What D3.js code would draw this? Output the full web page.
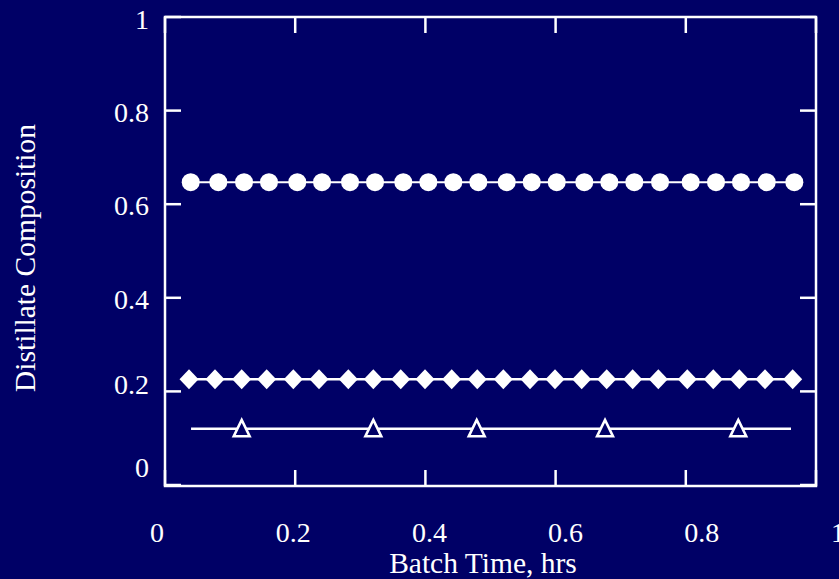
<!DOCTYPE html>
<html>
<head>
<meta charset="utf-8">
<script src="https://cdn.jsdelivr.net/npm/d3@7"></script>
<style>
  html, body { margin: 0; padding: 0; background: #000066; }
  svg { display: block; }
  text { font-family: 'Liberation Serif', 'Times New Roman', serif; fill: #fff; }
</style>
</head>
<body>
<div id="chart"></div>
<script>
// series
let circleX = [0.0395, 0.0819, 0.1214, 0.1597, 0.2032, 0.2412, 0.2842, 0.3226, 0.366, 0.4045, 0.4429, 0.4813,
  0.5249, 0.5633, 0.6017, 0.6441, 0.6825, 0.7209, 0.7604, 0.8075, 0.8464, 0.8848, 0.9243, 0.9667]
let circleY = 0.647

let diamondX = [0.0369, 0.0768, 0.1178, 0.1562, 0.1971, 0.2366, 0.2816, 0.32, 0.3621, 0.3994, 0.4404, 0.4797,
  0.5197, 0.5607, 0.5991, 0.6401, 0.6785, 0.7184, 0.7578, 0.8023, 0.8422, 0.8822, 0.9217, 0.9642]
let diamondY = 0.226

let triLineX = [0.04, 0.0794, 0.1178, 0.1613, 0.1997, 0.2366, 0.28, 0.32, 0.361, 0.4005, 0.4444, 0.4788,
  0.5197, 0.5581, 0.6017, 0.6401, 0.6759, 0.722, 0.7593, 0.8038, 0.8422, 0.8806, 0.9243, 0.9616]
let triMarkX = [0.1178, 0.32, 0.4788, 0.6759, 0.8806]
let triY = 0.12

let xTicks = [0, 0.2, 0.4, 0.6, 0.8, 1]
let yTicks = [0, 0.2, 0.4, 0.6, 0.8, 1]
let xTitle = 'Batch Time, hrs'
let yTitle = 'Distillate Composition'

let width = 839
let height = 579
let plot = { left: 165, right: 816, top: 17, bottom: 486 }
let fontSize = 28
let titleSize = 29.5

let svg = d3
  .select('#chart')
  .append('svg')
  .attr('width', width)
  .attr('height', height)

svg.append('rect').attr('width', width).attr('height', height).attr('fill', '#000066')

let x = d3.scaleLinear().domain([0, 1]).range([plot.left, plot.right])
let y = d3.scaleLinear().domain([0, 1]).range([485, plot.top])

// the tick labels sit a little off the ticks in the original
let xLabel = d3.scaleLinear().domain([0, 1]).range([157, 838])
let yLabel = d3.scaleLinear().domain([0, 0.2, 0.4, 1]).range([467, 384, 299, 19])

// frame
svg
  .append('rect')
  .attr('x', plot.left)
  .attr('y', plot.top)
  .attr('width', plot.right - plot.left)
  .attr('height', plot.bottom - plot.top)
  .attr('fill', 'none')
  .attr('stroke', '#fff')
  .attr('stroke-width', 2.5)

// inward ticks on all four sides
let tickLen = 16
xTicks.forEach(t => {
  svg.append('line')
    .attr('x1', x(t)).attr('x2', x(t))
    .attr('y1', plot.bottom).attr('y2', plot.bottom - tickLen)
    .attr('stroke', '#fff').attr('stroke-width', 2.5)
  svg.append('line')
    .attr('x1', x(t)).attr('x2', x(t))
    .attr('y1', plot.top).attr('y2', plot.top + tickLen)
    .attr('stroke', '#fff').attr('stroke-width', 2.5)
})
yTicks.forEach(t => {
  svg.append('line')
    .attr('x1', plot.left).attr('x2', plot.left + tickLen)
    .attr('y1', y(t)).attr('y2', y(t))
    .attr('stroke', '#fff').attr('stroke-width', 2.5)
  svg.append('line')
    .attr('x1', plot.right).attr('x2', plot.right - tickLen)
    .attr('y1', y(t)).attr('y2', y(t))
    .attr('stroke', '#fff').attr('stroke-width', 2.5)
})

svg
  .selectAll('.xlab')
  .data(xTicks)
  .enter()
  .append('text')
  .attr('class', 'xlab')
  .attr('x', d => xLabel(d))
  .attr('y', 542)
  .attr('text-anchor', 'middle')
  .attr('font-size', fontSize)
  .text(d => d3.format('')(d))

svg
  .selectAll('.ylab')
  .data(yTicks)
  .enter()
  .append('text')
  .attr('class', 'ylab')
  .attr('x', 149)
  .attr('y', d => yLabel(d))
  .attr('dy', '0.35em')
  .attr('text-anchor', 'end')
  .attr('font-size', fontSize)
  .text(d => d3.format('')(d))

svg
  .append('text')
  .attr('x', 483)
  .attr('y', 573)
  .attr('text-anchor', 'middle')
  .attr('font-size', titleSize)
  .text(xTitle)

svg
  .append('text')
  .attr('transform', 'translate(35,258) rotate(-90)')
  .attr('text-anchor', 'middle')
  .attr('font-size', titleSize)
  .text(yTitle)

let line = d3.line().x(d => x(d)).y(0)

// circles series
let gc = svg.append('g').attr('transform', `translate(0,${y(circleY)})`)
gc.append('path')
  .attr('d', line(circleX))
  .attr('stroke', '#fff')
  .attr('stroke-width', 2)
  .attr('fill', 'none')
gc.selectAll('circle')
  .data(circleX)
  .enter()
  .append('circle')
  .attr('cx', d => x(d))
  .attr('cy', 0)
  .attr('r', 9)
  .attr('fill', '#fff')

// diamonds series
let gd = svg.append('g').attr('transform', `translate(0,${y(diamondY)})`)
gd.append('path')
  .attr('d', line(diamondX))
  .attr('stroke', '#fff')
  .attr('stroke-width', 2.5)
  .attr('fill', 'none')
gd.selectAll('.diamond')
  .data(diamondX)
  .enter()
  .append('path')
  .attr('class', 'diamond')
  .attr('d', 'M0,-10L9.5,0L0,10L-9.5,0Z')
  .attr('transform', d => `translate(${x(d)},0)`)
  .attr('fill', '#fff')

// open triangles series
let gt = svg.append('g').attr('transform', `translate(0,${y(triY)})`)
gt.append('path')
  .attr('d', line(triLineX))
  .attr('stroke', '#fff')
  .attr('stroke-width', 2.5)
  .attr('fill', 'none')
gt.selectAll('.tri')
  .data(triMarkX)
  .enter()
  .append('path')
  .attr('class', 'tri')
  .attr('d', 'M0,-9L8,7.5L-8,7.5Z')
  .attr('transform', d => `translate(${x(d)},0)`)
  .attr('fill', '#000066')
  .attr('stroke', '#fff')
  .attr('stroke-width', 2.5)
</script>
</body>
</html>
